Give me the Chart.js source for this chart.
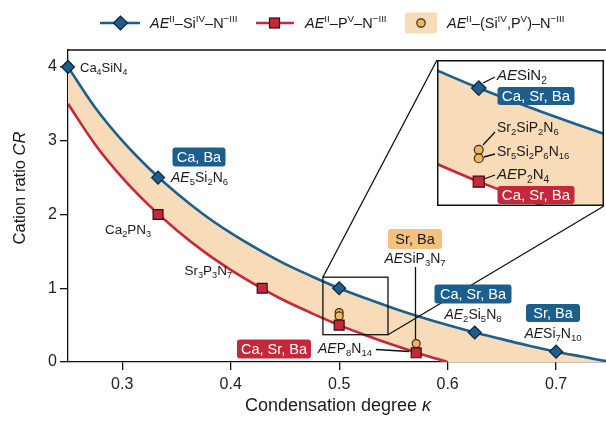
<!DOCTYPE html>
<html>
<head>
<meta charset="utf-8">
<script src="https://cdn.jsdelivr.net/npm/chart.js@4/dist/chart.umd.min.js"></script>
<style>
  body { margin: 0; background: #fff; }
  #wrap { position: relative; width: 606px; height: 421px; }
  #main { position: absolute; left: 0; top: 0; }
  #inset { position: absolute; left: 437px; top: 60px; background: #fff; }
</style>
</head>
<body>
<div id="wrap">
  <canvas id="main" width="606" height="421"></canvas>
  <canvas id="inset" width="167" height="146"></canvas>
</div>
<script>
'use strict';

// ── Data ──────────────────────────────────────────────────────
const kappa = [0.25, 0.275, 0.30, 0.325, 0.35, 0.375, 0.40, 0.425, 0.45, 0.475, 0.50,
               0.525, 0.55, 0.575, 0.60, 0.625, 0.65, 0.675, 0.70, 0.725, 0.75];
// AE–Si–N boundary curve
const crSi  = [4.00, 3.45, 3.00, 2.62, 2.29, 2.00, 1.75, 1.53, 1.33, 1.16, 1.00,
               0.86, 0.73, 0.61, 0.50, 0.40, 0.31, 0.22, 0.14, 0.07, 0.00];
// AE–P–N boundary curve (reaches zero at κ = 0.6)
const crP   = [3.50, 2.95, 2.50, 2.12, 1.79, 1.50, 1.25, 1.03, 0.83, 0.66, 0.50,
               0.36, 0.23, 0.11, 0.00];

// known compounds
const siKappa  = [0.25, 0.333, 0.50, 0.625, 0.70];
const siCR     = [4.00, 2.50, 1.00, 0.40, 0.14];
const pKappa   = [0.333, 0.429, 0.50, 0.571];
const pCR      = [2.00, 1.00, 0.50, 0.125];
const mixKappa = [0.50, 0.50, 0.571];
const mixCR    = [0.67, 0.625, 0.25];

const xTicks = [0.3, 0.4, 0.5, 0.6, 0.7];
const yTicks = [0, 1, 2, 3, 4];

// ── Styles ────────────────────────────────────────────────────
const FONT  = "'Liberation Sans', Arial, sans-serif";
const BLUE  = '#1d5f8c';
const BLUEK = '#0c2438';
const RED   = '#c5283a';
const REDK  = '#3a0c10';
const BAND  = '#f8dcba';
const ORNG  = '#f1b45c';
const ORNK  = '#3a2a12';
const BOXOR = '#f3c27f';

const pts = (xs, ys) => xs.map((x, i) => ({ x, y: ys[i] }));
const lowerEdge = kappa.map((k, i) => i < crP.length ? crP[i] : 0);

function buildDatasets(big) {
  const k = big ? 1.12 : 1;
  return [
    { data: pts(mixKappa, mixCR), showLine: false, order: 1, clip: false,
      pointStyle: 'circle', pointRadius: 4 * k, pointBackgroundColor: ORNG,
      pointBorderColor: ORNK, pointBorderWidth: 1.2 },
    { data: pts(pKappa, pCR), showLine: false, order: 0, clip: false,
      pointStyle: 'rect', pointRadius: 7 * k, pointBackgroundColor: RED,
      pointBorderColor: REDK, pointBorderWidth: 1.2 },
    { data: pts(siKappa, siCR), showLine: false, order: 0, clip: false,
      pointStyle: 'rectRot', pointRadius: 6.5 * k, pointBackgroundColor: BLUE,
      pointBorderColor: BLUEK, pointBorderWidth: 1.2 },
    { data: pts(kappa.slice(0, crP.length), crP), borderColor: RED, borderWidth: 2.6,
      pointRadius: 0, cubicInterpolationMode: 'monotone', order: 3, fill: false },
    { data: pts(kappa, crSi), borderColor: BLUE, borderWidth: 2.6,
      pointRadius: 0, cubicInterpolationMode: 'monotone', order: 3, fill: false },
    { data: pts(kappa, crSi), borderWidth: 0, pointRadius: 0, backgroundColor: BAND,
      cubicInterpolationMode: 'monotone', order: 5, fill: '+1' },
    { data: pts(kappa, lowerEdge), borderWidth: 0, pointRadius: 0,
      cubicInterpolationMode: 'monotone', order: 6, fill: false },
  ];
}

// ── Rich text helpers (italic, sub, sup) ──────────────────────
function parseRich(str) {
  const out = [];
  const re = /<(i|sub|sup)>(.*?)<\/\1>|([^<]+)/g;
  let m;
  while ((m = re.exec(str))) {
    if (m[3]) out.push({ t: m[3], k: '' });
    else out.push({ t: m[2], k: m[1] });
  }
  return out;
}

function drawRich(ctx, str, x, y, size, align, color) {
  const parts = parseRich(str);
  ctx.save();
  ctx.fillStyle = color || '#1a1a1a';
  ctx.textBaseline = 'alphabetic';
  ctx.textAlign = 'left';
  let total = 0;
  parts.forEach(p => {
    const s = (p.k === 'sub' || p.k === 'sup') ? size * 0.68 : size;
    p.font = (p.k === 'i' ? 'italic ' : '') + s + 'px ' + FONT;
    ctx.font = p.font;
    p.w = ctx.measureText(p.t).width;
    p.dy = p.k === 'sub' ? size * 0.24 : p.k === 'sup' ? -size * 0.4 : 0;
    total += p.w;
  });
  let cx = align === 'center' ? x - total / 2 : align === 'right' ? x - total : x;
  const base = y + size * 0.36;
  parts.forEach(p => {
    ctx.font = p.font;
    ctx.fillText(p.t, cx, base + p.dy);
    cx += p.w;
  });
  ctx.restore();
}

function drawBox(ctx, cx, cy, w, h, fill, text, color, size) {
  ctx.save();
  ctx.fillStyle = fill;
  ctx.beginPath();
  ctx.roundRect(cx - w / 2, cy - h / 2, w, h, 3);
  ctx.fill();
  ctx.fillStyle = color;
  ctx.font = size + 'px ' + FONT;
  ctx.textAlign = 'center';
  ctx.textBaseline = 'middle';
  ctx.fillText(text, cx, cy + 1);
  ctx.restore();
}

function line(ctx, x1, y1, x2, y2, w, color) {
  ctx.save();
  ctx.strokeStyle = color || '#111';
  ctx.lineWidth = w || 1.3;
  ctx.beginPath();
  ctx.moveTo(x1, y1);
  ctx.lineTo(x2, y2);
  ctx.stroke();
  ctx.restore();
}

// ── Main chart decorations ────────────────────────────────────
const zoomBox = { x0: 0.485, x1: 0.545, y0: 0.37, y1: 1.15 };
const insetRect = { left: 437, top: 60, right: 604, bottom: 206 };

const mainDecor = {
  id: 'mainDecor',
  afterDraw(chart) {
    const ctx = chart.ctx;
    const a = chart.chartArea;
    const xs = chart.scales.x, ys = chart.scales.y;

    // top spine
    line(ctx, a.left - 0.6, a.top, a.right, a.top, 1.3);

    // axis titles
    drawRich(ctx, 'Condensation degree <i>κ</i>', 338, 405, 18, 'center', '#1a1a1a');
    ctx.save();
    ctx.translate(19, 188);
    ctx.rotate(-Math.PI / 2);
    drawRich(ctx, 'Cation ratio <i>CR</i>', 0, 0, 16.5, 'center', '#1a1a1a');
    ctx.restore();

    // legend
    const ly = 23;
    line(ctx, 100, ly, 140, ly, 2.6, BLUE);
    ctx.save(); ctx.fillStyle = BLUE; ctx.strokeStyle = BLUEK;
    Chart.helpers.drawPoint(ctx, { pointStyle: 'rectRot', radius: 7, borderWidth: 1.2 }, 120.5, ly);
    ctx.restore();
    drawRich(ctx, '<i>AE</i><sup>II</sup>–Si<sup>IV</sup>–N<sup>−III</sup>', 150, ly, 14.5, 'left');

    line(ctx, 256, ly, 294, ly, 2.6, RED);
    ctx.save(); ctx.fillStyle = RED; ctx.strokeStyle = REDK; ctx.lineWidth = 1.2;
    ctx.fillRect(269.5, ly - 5, 10, 10); ctx.strokeRect(269.5, ly - 5, 10, 10); ctx.restore();
    drawRich(ctx, '<i>AE</i><sup>II</sup>–P<sup>V</sup>–N<sup>−III</sup>', 305, ly, 14.5, 'left');

    ctx.save(); ctx.fillStyle = BAND;
    ctx.beginPath(); ctx.roundRect(405, ly - 10.5, 32, 21, 2); ctx.fill();
    ctx.fillStyle = ORNG; ctx.strokeStyle = ORNK; ctx.lineWidth = 1.2;
    ctx.beginPath(); ctx.arc(421, ly, 4.2, 0, Math.PI * 2); ctx.fill(); ctx.stroke();
    ctx.restore();
    drawRich(ctx, '<i>AE</i><sup>II</sup>–(Si<sup>IV</sup>,P<sup>V</sup>)–N<sup>−III</sup>', 447, ly, 14.5, 'left');

    // zoom rectangle and connectors to the inset
    const zl = xs.getPixelForValue(zoomBox.x0), zr = xs.getPixelForValue(zoomBox.x1);
    const zt = ys.getPixelForValue(zoomBox.y1), zb = ys.getPixelForValue(zoomBox.y0);
    ctx.save(); ctx.strokeStyle = '#111'; ctx.lineWidth = 1.3;
    ctx.strokeRect(zl, zt, zr - zl, zb - zt); ctx.restore();
    line(ctx, zl, zt, insetRect.left, insetRect.top);
    line(ctx, zr, zb, insetRect.right, insetRect.bottom);

    // annotations
    drawRich(ctx, 'Ca<sub>4</sub>SiN<sub>4</sub>', 80, 67, 13, 'left');

    drawBox(ctx, 199, 157, 53, 19, BLUE, 'Ca, Ba', '#fff', 14.5);
    drawRich(ctx, '<i>AE</i><sub>5</sub>Si<sub>2</sub>N<sub>6</sub>', 171, 177, 14, 'left');

    drawRich(ctx, 'Ca<sub>2</sub>PN<sub>3</sub>', 105, 229, 13.5, 'left');
    drawRich(ctx, 'Sr<sub>3</sub>P<sub>3</sub>N<sub>7</sub>', 232, 270, 13.5, 'right');

    drawBox(ctx, 415, 239, 54, 20, BOXOR, 'Sr, Ba', '#1a1a1a', 14.5);
    drawRich(ctx, '<i>AE</i>SiP<sub>3</sub>N<sub>7</sub>', 415, 258, 14, 'center');
    line(ctx, 415.5, 267, 415.5, 339);

    drawBox(ctx, 473, 294, 77, 19, BLUE, 'Ca, Sr, Ba', '#fff', 14.5);
    drawRich(ctx, '<i>AE</i><sub>2</sub>Si<sub>5</sub>N<sub>8</sub>', 473, 314, 14, 'center');

    drawBox(ctx, 553, 313, 54, 18, BLUE, 'Sr, Ba', '#fff', 14.5);
    drawRich(ctx, '<i>AE</i>Si<sub>7</sub>N<sub>10</sub>', 553, 333, 14, 'center');

    drawBox(ctx, 274, 349, 74, 19, RED, 'Ca, Sr, Ba', '#fff', 14.5);
    drawRich(ctx, '<i>AE</i>P<sub>8</sub>N<sub>14</sub>', 318, 348, 14, 'left');
    line(ctx, 376, 349.5, 409, 351.5);
  }
};

// ── Inset decorations ─────────────────────────────────────────
const insetDecor = {
  id: 'insetDecor',
  afterDraw(chart) {
    const ctx = chart.ctx;
    const ox = insetRect.left, oy = insetRect.top;
    drawRich(ctx, '<i>AE</i>SiN<sub>2</sub>', 497 - ox, 75 - oy, 15, 'left');
    line(ctx, 483 - ox, 83 - oy, 495 - ox, 77 - oy);
    drawBox(ctx, 536 - ox, 96 - oy, 77, 18, BLUE, 'Ca, Sr, Ba', '#fff', 15);

    drawRich(ctx, 'Sr<sub>2</sub>SiP<sub>2</sub>N<sub>6</sub>', 497 - ox, 127 - oy, 14, 'left');
    line(ctx, 483 - ox, 145 - oy, 495 - ox, 132 - oy);
    drawRich(ctx, 'Sr<sub>5</sub>Si<sub>2</sub>P<sub>6</sub>N<sub>16</sub>', 497 - ox, 151 - oy, 14, 'left');
    line(ctx, 484 - ox, 157 - oy, 495 - ox, 154 - oy);

    drawRich(ctx, '<i>AE</i>P<sub>2</sub>N<sub>4</sub>', 497 - ox, 174 - oy, 15, 'left');
    line(ctx, 484 - ox, 179 - oy, 495 - ox, 175 - oy);
    drawBox(ctx, 536 - ox, 195 - oy, 77, 18, RED, 'Ca, Sr, Ba', '#fff', 15);

    ctx.save(); ctx.strokeStyle = '#111'; ctx.lineWidth = 1.5;
    ctx.strokeRect(0.75, 0.75, chart.width - 1.5, chart.height - 1.5);
    ctx.restore();
  }
};

// ── Build charts ──────────────────────────────────────────────
Chart.defaults.font.family = FONT;

const tickAxis = (vals) => (scale) => { scale.ticks = vals.map(v => ({ value: v })); };

new Chart(document.getElementById('main'), {
  type: 'line',
  data: { datasets: buildDatasets(false) },
  options: {
    responsive: false,
    animation: false,
    layout: { autoPadding: false, padding: { top: 50, left: 0, right: 0, bottom: 0 } },
    plugins: { legend: { display: false }, tooltip: { enabled: false },
               filler: { drawTime: 'beforeDatasetsDraw' } },
    scales: {
      x: {
        type: 'linear', min: 0.25, max: 0.746,
        afterBuildTicks: tickAxis(xTicks),
        afterFit: s => { s.height = 59; },
        ticks: { color: '#222', font: { size: 16 }, padding: 5, maxRotation: 0,
                 callback: v => v.toFixed(1) },
        grid: { drawOnChartArea: false, drawTicks: true, tickLength: 8,
                color: '#111', lineWidth: 1.3 },
        border: { display: true, color: '#111', width: 1.3 },
      },
      y: {
        type: 'linear', min: 0, max: 4.23,
        afterBuildTicks: tickAxis(yTicks),
        afterFit: s => { s.width = 68; },
        ticks: { color: '#222', font: { size: 16 }, padding: 3 },
        grid: { drawOnChartArea: false, drawTicks: true, tickLength: 8,
                color: '#111', lineWidth: 1.3 },
        border: { display: true, color: '#111', width: 1.3 },
      },
    },
  },
  plugins: [mainDecor],
});

new Chart(document.getElementById('inset'), {
  type: 'line',
  data: { datasets: buildDatasets(true) },
  options: {
    responsive: false,
    animation: false,
    layout: { autoPadding: false, padding: 0 },
    plugins: { legend: { display: false }, tooltip: { enabled: false },
               filler: { drawTime: 'beforeDatasetsDraw' } },
    scales: {
      x: { type: 'linear', display: false, min: zoomBox.x0, max: zoomBox.x1 },
      y: { type: 'linear', display: false, min: zoomBox.y0, max: zoomBox.y1 },
    },
  },
  plugins: [insetDecor],
});
</script>
</body>
</html>
